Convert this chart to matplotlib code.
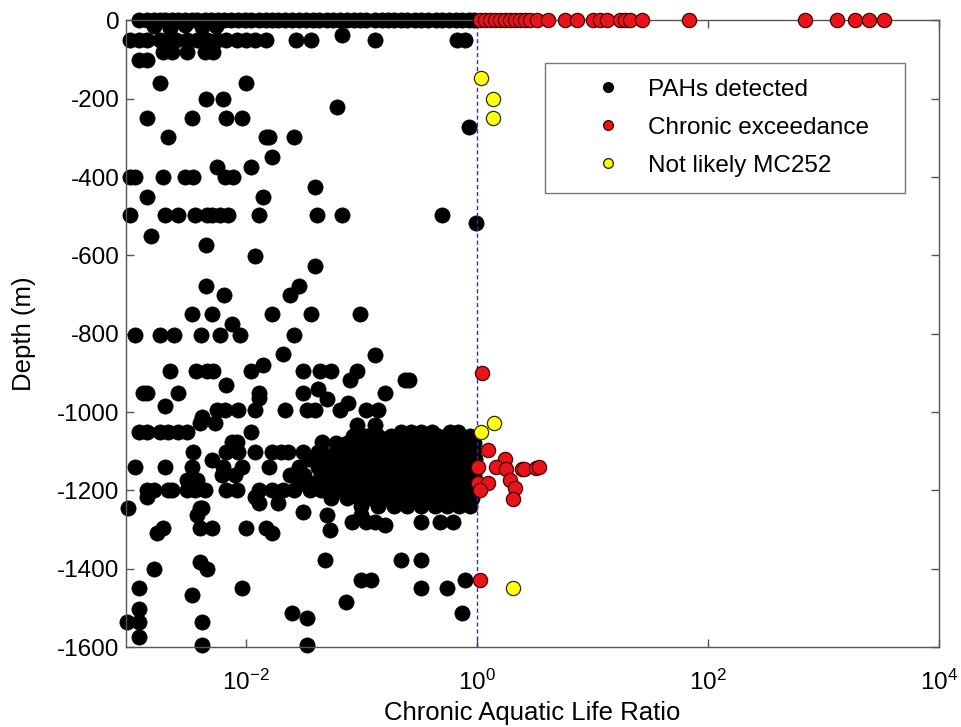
import matplotlib
matplotlib.use("Agg")
import matplotlib.pyplot as plt
from matplotlib.lines import Line2D
from matplotlib.ticker import FixedLocator, NullLocator

plt.rcParams['font.family'] = ['Liberation Sans', 'DejaVu Sans']
plt.rcParams['axes.unicode_minus'] = False
plt.rcParams['mathtext.fontset'] = 'custom'
plt.rcParams['mathtext.rm'] = 'Liberation Sans'
plt.rcParams['mathtext.default'] = 'regular'

# PAHs detected: (ratio, depth) read row by row
pah_ratio = [
    # surface row
    0.0012, 0.0014, 0.0016, 0.0018, 0.0020, 0.0023, 0.0026, 0.0030, 0.0034, 0.0038,
    0.0044, 0.0050, 0.0057, 0.0065, 0.0075, 0.0085, 0.0098, 0.011, 0.013, 0.015,
    0.017, 0.019, 0.022, 0.025, 0.029, 0.033, 0.038, 0.043, 0.050, 0.057,
    0.065, 0.075, 0.086, 0.098, 0.11, 0.13, 0.15, 0.17, 0.19, 0.22,
    0.25, 0.29, 0.33, 0.38, 0.44, 0.50, 0.57, 0.66, 0.75, 0.86, 0.95,
    0.0016, 0.0022, 0.0030, 0.0042, 0.0055,
    # -50 m
    0.00099, 0.0012, 0.0014, 0.0018, 0.0021, 0.0025, 0.0031, 0.0038, 0.0046, 0.0056,
    0.0068, 0.0084, 0.010, 0.012, 0.015, 0.027, 0.037, 0.13, 0.67, 0.79, 0.068,
    0.0019, 0.0023, 0.0031, 0.0044, 0.0052, 0.0012, 0.0014,
    # 150 - 1000 m
    0.0018, 0.010, 0.0045, 0.0063, 0.061, 0.0014, 0.0034, 0.0068, 0.0092, 0.86,
    0.0021, 0.015, 0.016, 0.026, 0.017, 0.0056, 0.011,
    0.00099, 0.0011, 0.0019, 0.0030, 0.0035, 0.0066, 0.0077, 0.040, 0.0014, 0.014,
    0.0010, 0.0020, 0.0026, 0.0036, 0.0046, 0.0051, 0.0060, 0.0070, 0.013, 0.041, 0.068, 0.50,
    0.98, 0.0015, 0.0045, 0.012, 0.040, 0.0045, 0.029, 0.0065, 0.024,
    0.0034, 0.0051, 0.017, 0.037, 0.097, 0.0076,
    0.0011, 0.0018, 0.0024, 0.0041, 0.0060, 0.0089, 0.026,
    0.021, 0.13, 0.014,
    0.0022, 0.0037, 0.0046, 0.0052, 0.011, 0.031, 0.044, 0.055, 0.092,
    0.080, 0.24, 0.26, 0.0068, 0.042,
    0.0013, 0.0014, 0.0026, 0.013, 0.031, 0.16, 0.013, 0.050, 0.076, 0.0020,
    0.0056, 0.0066, 0.0085, 0.012, 0.022, 0.034, 0.040, 0.065, 0.11, 0.14,
    0.0042,
    # 1000 - 1600 m, outside the main cluster
    0.0040, 0.0054, 0.092, 0.13,
    0.0012, 0.0014, 0.0018, 0.0021, 0.0026, 0.0031, 0.011,
    0.22, 0.27, 0.33, 0.41, 0.58, 0.68,
    0.0076, 0.0084, 0.046, 0.080, 0.11,
    0.0035, 0.0068, 0.0085, 0.012, 0.017, 0.020, 0.023, 0.031, 0.042, 0.068,
    0.0051, 0.10,
    0.0011, 0.0020, 0.0034, 0.0063, 0.0092, 0.016, 0.044,
    0.0062, 0.0080, 0.024, 0.0031, 0.0038,
    0.0014, 0.0016, 0.0021, 0.0023, 0.0031, 0.0036, 0.0044, 0.0068, 0.0084, 0.013,
    0.017, 0.021, 0.026, 0.036,
    0.0014, 0.012, 0.013, 0.019, 0.00095, 0.0040, 0.0042, 0.031,
    0.0038, 0.050, 0.10,
    0.083, 0.11, 0.13, 0.33, 0.48, 0.62, 0.16,
    0.0019, 0.0040, 0.0051, 0.010, 0.015, 0.053, 0.0017, 0.017,
    0.048, 0.22, 0.33, 0.0040, 0.0016, 0.0046,
    0.10, 0.12, 0.79, 0.0012, 0.0092, 0.33, 0.55, 0.0034, 0.073,
    0.0012, 0.025, 0.74, 0.034, 0.00093, 0.0012, 0.0042, 0.0012, 0.0042, 0.034,
    # main cluster, 1060 - 1240 m
    0.085, 0.11, 0.14, 0.18, 0.24, 0.30, 0.37, 0.46, 0.56, 0.72, 0.88,
    0.060, 0.075, 0.095, 0.12, 0.15, 0.19, 0.25, 0.32, 0.40, 0.50, 0.63, 0.78, 0.95,
    0.045, 0.060, 0.075, 0.095, 0.12, 0.16, 0.21, 0.27, 0.35, 0.45, 0.57, 0.72, 0.92,
    0.035, 0.050, 0.065, 0.085, 0.11, 0.14, 0.18, 0.23, 0.30, 0.38, 0.48, 0.61, 0.78, 0.96,
    0.029, 0.042, 0.055, 0.070, 0.090, 0.12, 0.16, 0.21, 0.27, 0.34, 0.43, 0.55, 0.70, 0.88,
    0.032, 0.045, 0.060, 0.080, 0.10, 0.13, 0.17, 0.22, 0.29, 0.37, 0.47, 0.60, 0.76, 0.95,
    0.030, 0.040, 0.055, 0.070, 0.090, 0.12, 0.15, 0.20, 0.26, 0.33, 0.42, 0.53, 0.67, 0.85,
    0.045, 0.060, 0.080, 0.10, 0.13, 0.17, 0.22, 0.28, 0.36, 0.46, 0.58, 0.74, 0.93,
    0.055, 0.075, 0.095, 0.12, 0.16, 0.21, 0.27, 0.35, 0.45, 0.57, 0.72, 0.90,
    0.10, 0.14, 0.19, 0.25, 0.33, 0.43, 0.55, 0.70, 0.88,
]
pah_depth = (
    [0] * 51 + [-15, -20, -12, -18, -15]
    + [-50] * 20 + [-37]
    + [-80] * 5 + [-100] * 2
    + [-161, -161, -201, -201, -221, -250, -250, -250, -250, -273,
       -299, -299, -299, -299, -349, -374, -374]
    + [-399] * 7 + [-425, -450, -450]
    + [-497] * 12
    + [-518, -551, -574, -602, -627, -678, -678, -701, -701]
    + [-750] * 5 + [-775]
    + [-803] * 7
    + [-851, -855, -881]
    + [-896] * 9
    + [-919, -919, -919, -932, -940]
    + [-952] * 6 + [-963, -968, -978, -985]
    + [-995] * 10
    + [-1013]
    + [-1029, -1029, -1034, -1034]
    + [-1050] * 7
    + [-1051] * 6
    + [-1076] * 5
    + [-1102] * 10
    + [-1123] * 2
    + [-1141] * 7
    + [-1161] * 3 + [-1174] * 2
    + [-1200] * 14
    + [-1217, -1217, -1233, -1233, -1246, -1246, -1246, -1254]
    + [-1263] * 3
    + [-1281] * 6 + [-1289]
    + [-1297] * 5 + [-1302, -1310, -1310]
    + [-1378] * 3 + [-1384, -1400, -1400]
    + [-1430] * 3 + [-1450] * 4 + [-1468, -1486]
    + [-1502, -1512, -1512, -1527, -1537, -1537, -1537, -1575, -1595, -1595]
    + [-1060] * 11 + [-1080] * 13 + [-1100] * 13 + [-1120] * 14
    + [-1140] * 14 + [-1160] * 14 + [-1180] * 14 + [-1200] * 13
    + [-1220] * 12 + [-1240] * 9
)

# Chronic exceedance
red_ratio = [1.06, 1.17, 1.30, 1.43, 1.58, 1.75, 1.93, 2.13, 2.36, 2.60, 2.88, 3.31,
             4.12, 5.78, 7.34, 10.1, 11.6, 13.4, 17.3, 19.1, 21.1, 26.8, 68.4,
             692, 1309, 1875, 2478, 3341,
             1.10, 1.25, 1.75, 1.02, 1.45, 1.78, 2.45, 2.55, 3.25, 3.45,
             1.02, 1.25, 1.95, 2.15, 1.06, 2.05, 1.06]
red_depth = [0] * 28 + [-901, -1097, -1121, -1141, -1141, -1146, -1146, -1146,
                        -1144, -1141, -1181, -1181, -1174, -1194, -1200, -1223, -1428]

# Not likely MC252
yel_ratio = [1.08, 1.38, 1.38, 1.40, 1.08, 2.05]
yel_depth = [-148, -201, -250, -1028, -1050, -1450]

assert len(pah_ratio) == len(pah_depth)

fig = plt.figure(figsize=(9.61, 7.27), dpi=100)
ax = fig.add_axes([0.1308, 0.110, 0.8463, 0.862])

ax.scatter(pah_ratio, pah_depth, s=120, c='black', edgecolors='black',
           linewidths=0.5, zorder=2, clip_on=False)
ax.axvline(1, color='#2424ff', linestyle='--', linewidth=1, dashes=(3, 2), zorder=2.5)
ax.scatter(red_ratio, red_depth, s=105, c='#e8141a', edgecolors='#4a0000',
           linewidths=0.9, zorder=3, clip_on=False)
ax.scatter(yel_ratio, yel_depth, s=105, c='#ffff10', edgecolors='#303000',
           linewidths=0.9, zorder=3, clip_on=False)

ax.set_xscale('log')
ax.set_xlim(10 ** -3.04, 1e4)
ax.set_ylim(-1600, 0)
ax.xaxis.set_major_locator(FixedLocator([1e-2, 1e0, 1e2, 1e4]))
ax.xaxis.set_minor_locator(NullLocator())
ax.set_xticklabels([r'$10^{-2}$', r'$10^{0}$', r'$10^{2}$', r'$10^{4}$'])
ax.set_yticks(range(-1600, 1, 200))

for sp in ax.spines.values():
    sp.set_color('#555555')
    sp.set_linewidth(1.0)
ax.tick_params(direction='in', length=6, width=1, color='#555555',
               top=True, right=True, labelsize=17.5)
ax.tick_params(axis='x', pad=16)
ax.tick_params(axis='y', pad=4.5)

ax.set_xlabel('Chronic Aquatic Life Ratio', fontsize=18.5, labelpad=5)
ax.set_ylabel('Depth (m)', fontsize=18.5, labelpad=15)

handles = [
    Line2D([], [], ls='none', marker='o', ms=7, mfc='black', mec='black'),
    Line2D([], [], ls='none', marker='o', ms=7, mfc='#e8141a', mec='#4a0000'),
    Line2D([], [], ls='none', marker='o', ms=7, mfc='#ffff10', mec='#303000'),
]
leg = ax.legend(handles, ['PAHs detected', 'Chronic exceedance', 'Not likely MC252'],
                loc='upper left', bbox_to_anchor=(0.5156, 0.932, 0.4424, 0.0),
                mode='expand', fontsize=17.5, frameon=True, fancybox=False,
                edgecolor='#555555', borderpad=0.65, labelspacing=0.66,
                handlelength=3.88, handletextpad=-0.29, borderaxespad=0)
leg.get_frame().set_linewidth(1.0)

fig.savefig('out.png', dpi=100)
